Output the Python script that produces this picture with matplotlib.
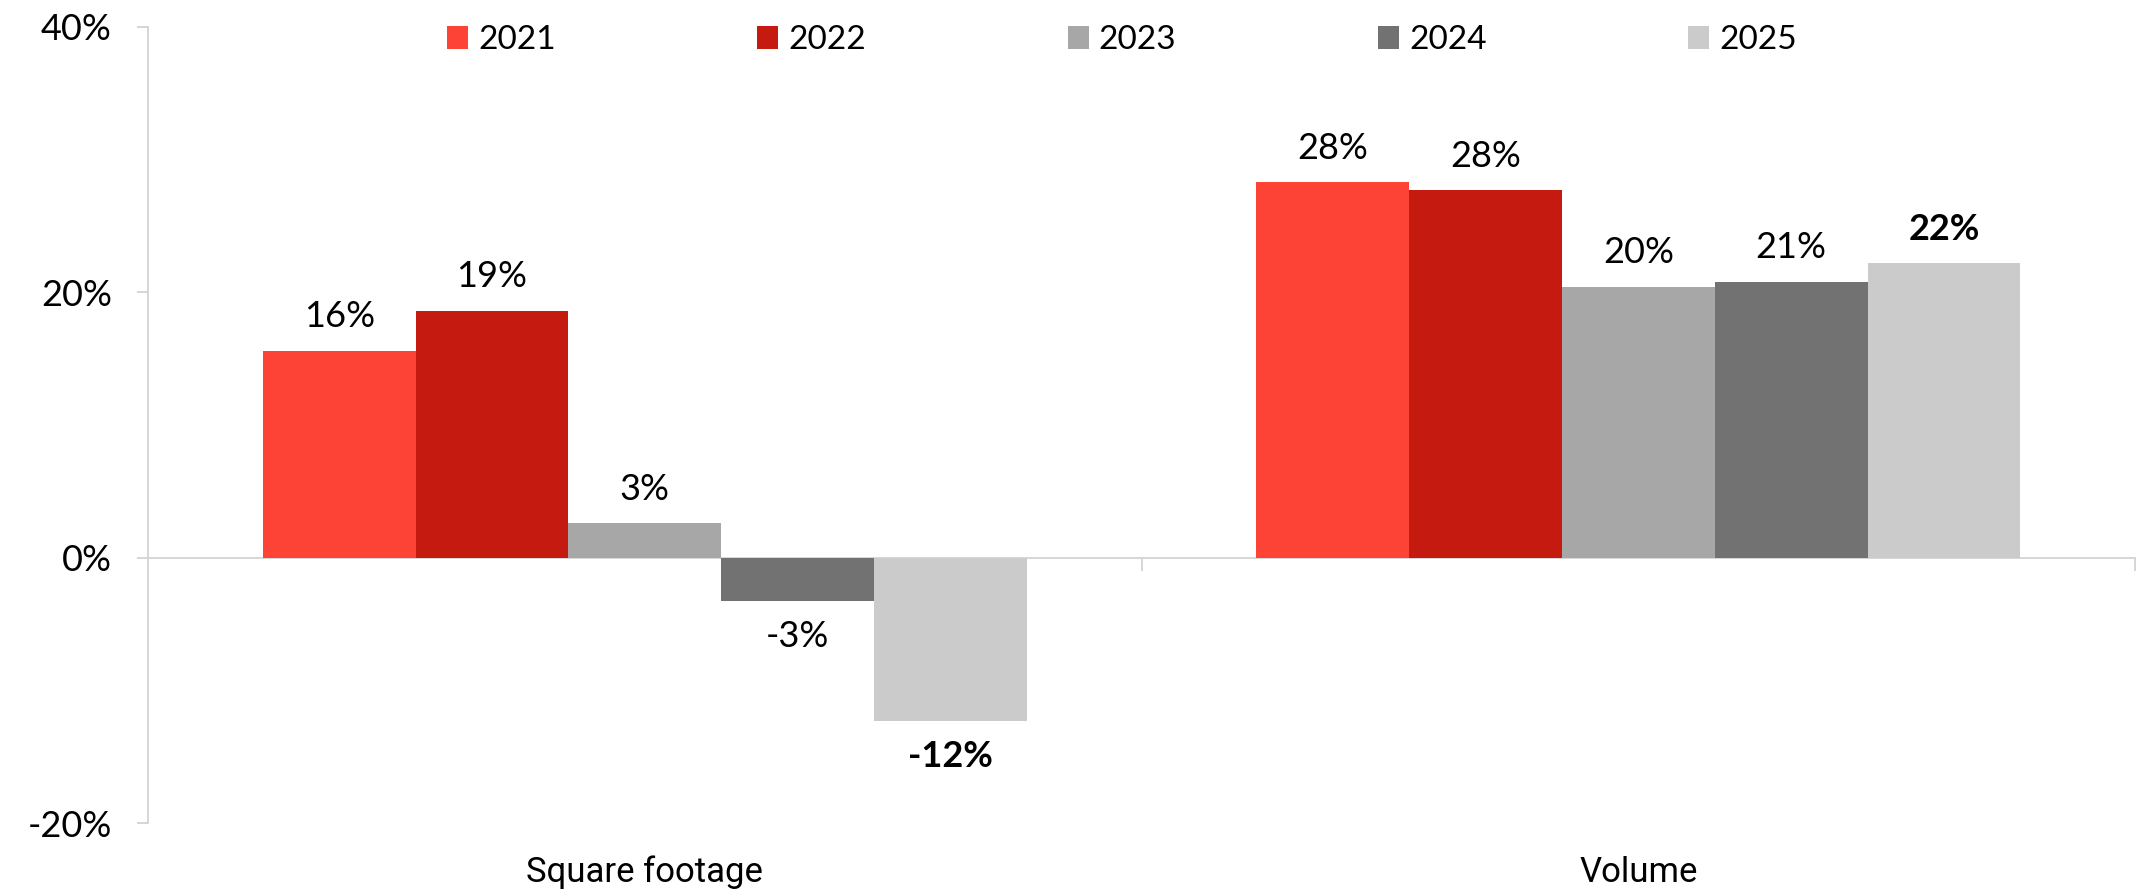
import matplotlib
matplotlib.use("Agg")
import matplotlib.pyplot as plt
from matplotlib.patches import Patch
from matplotlib.ticker import FuncFormatter
import numpy as np

plt.rcParams['axes.unicode_minus'] = False
plt.rcParams['font.family'] = ['Lato', 'DejaVu Sans']

categories = ["Square footage", "Volume"]
years = ["2021", "2022", "2023", "2024", "2025"]
values_2021 = [15.6, 28.3]
values_2022 = [18.6, 27.7]
values_2023 = [2.6, 20.4]
values_2024 = [-3.3, 20.8]
values_2025 = [-12.3, 22.2]
series = [values_2021, values_2022, values_2023, values_2024, values_2025]
colors = ["#FD4335", "#C41A10", "#A7A7A7", "#727272", "#CBCBCB"]
bold_years = ["2025"]
yticks = [-20, 0, 20, 40]

fig = plt.figure(figsize=(21.39, 8.94), dpi=100)
ax = fig.add_axes([0.0692, 0.0794, 0.929, 0.8904])

x = np.arange(len(categories))
bw = 0.1538
n = len(years)
for i, (yr, vals, c) in enumerate(zip(years, series, colors)):
    pos = x + (i - (n - 1) / 2) * bw
    ax.bar(pos, vals, width=bw, color=c, linewidth=0, zorder=2)
    for px, v in zip(pos, vals):
        wt = 'bold' if yr in bold_years else 'normal'
        txt = f"{int(round(v))}%"
        if v >= 0:
            ax.annotate(txt, (px, v), xytext=(0, 17), textcoords='offset points',
                        ha='center', va='baseline', fontsize=26, fontweight=wt, color='black')
        else:
            ax.annotate(txt, (px, v), xytext=(0, -33), textcoords='offset points',
                        ha='center', va='baseline', fontsize=26, fontweight=wt, color='black')

ax.set_xlim(-0.5, len(categories) - 0.5)
ax.set_ylim(-20, 40)

for s in ['top', 'right']:
    ax.spines[s].set_visible(False)
ax.spines['left'].set_color('#D3D3D3')
ax.spines['left'].set_linewidth(1.3)
ax.spines['bottom'].set_position(('data', 0))
ax.spines['bottom'].set_color('#D3D3D3')
ax.spines['bottom'].set_linewidth(1.3)
ax.spines['bottom'].set_zorder(1)

ax.set_yticks(yticks)
ax.yaxis.set_major_formatter(FuncFormatter(lambda v, p: f"{int(v)}%"))
ax.tick_params(axis='y', length=8, width=1.3, color='#D3D3D3', pad=18,
               labelsize=26, labelcolor='black')
for lab in ax.get_yticklabels():
    lab.set_fontweight('normal')

ax.set_xticks(x + 0.5)
ax.set_xticklabels([])
ax.tick_params(axis='x', length=9, width=1.3, color='#D3D3D3', direction='out')

trans = ax.get_xaxis_transform()
for xi, cat in zip(x, categories):
    ax.text(xi, -0.0741, cat, transform=trans, ha='center', va='baseline',
            fontsize=25, fontweight='normal', family=['Roboto', 'DejaVu Sans'], color='black')

handles = [Patch(facecolor=c, edgecolor='none', label=yr) for yr, c in zip(years, colors)]
leg = fig.legend(handles=handles, loc='center', bbox_to_anchor=(0.5245, 0.955), ncol=5,
                 frameon=False, fontsize=24, handlelength=0.63, handleheight=0.66,
                 handletextpad=0.3, columnspacing=6.05)
for t in leg.get_texts():
    t.set_fontweight('normal')

fig.savefig("out.png", dpi=100)
